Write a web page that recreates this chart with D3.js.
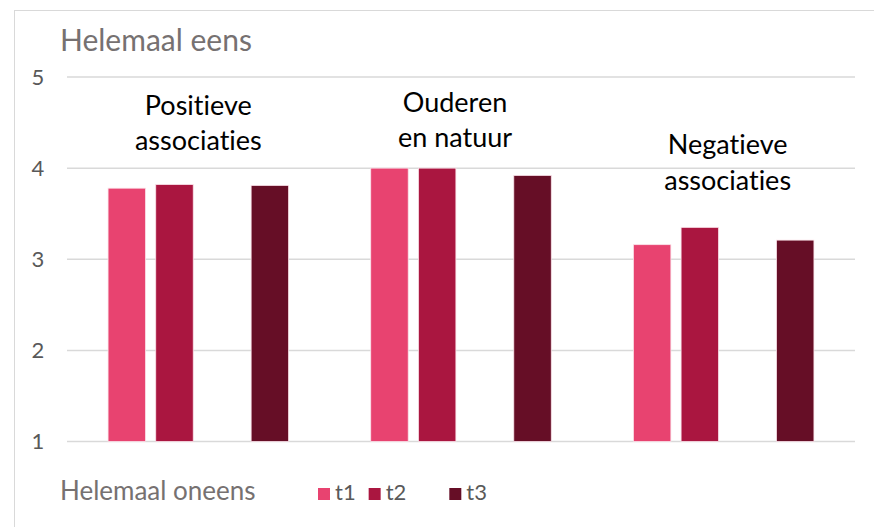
<!DOCTYPE html>
<html>
<head>
<meta charset="utf-8">
<script src="https://cdn.jsdelivr.net/npm/d3@7"></script>
<style>
  body { margin: 0; background: #fff; }
  svg { display: block; font-family: Lato, "Open Sans", sans-serif; font-variant-ligatures: none; font-feature-settings: "liga" 0, "clig" 0; }
</style>
</head>
<body>
<div id="chart"></div>
<script>
var width = 874,
	height = 527;

// data
var groups = ['Positieve associaties', 'Ouderen en natuur', 'Negatieve associaties'];
var groupLines = [['Positieve', 'associaties'], ['Ouderen', 'en natuur'], ['Negatieve', 'associaties']];
var series = ['t1', 't2', '', 't3'];   // third series is empty (spacer)
var t1 = [3.78, 4.00, 3.16];
var t2 = [3.82, 4.00, 3.35];
var t3 = [3.81, 3.92, 3.21];
var yTicks = [1, 2, 3, 4, 5];
var topLabel = 'Helemaal eens';
var bottomLabel = 'Helemaal oneens';

var values = {t1: t1, t2: t2, '': [null, null, null], t3: t3};
var colors = {t1: '#e84370', t2: '#aa1640', '': 'none', t3: '#660e26'};

var svg = d3.select('#chart').append('svg')
	.attr('width', width)
	.attr('height', height);

// chart border
svg.append('rect')
	.attr('x', 14.5).attr('y', 10.5)
	.attr('width', width + 10).attr('height', height + 10)
	.style('fill', 'none')
	.style('stroke', '#d9d9d9')
	.style('stroke-width', 1);

var x0 = d3.scaleBand()
	.domain(groups)
	.range([67, 855]);

var x1 = d3.scaleBand()
	.domain(series)
	.range([0, x0.bandwidth()])
	.paddingInner(0.214)
	.paddingOuter(0.861);

var y = d3.scaleLinear()
	.domain([1, 5])
	.range([441.5, 77]);

// gridlines
svg.append('g')
	.selectAll('line')
	.data(yTicks)
	.enter()
	.append('line')
	.attr('x1', 67).attr('x2', 855)
	.attr('y1', d => y(d)).attr('y2', d => y(d))
	.style('stroke', '#d9d9d9')
	.style('stroke-width', 1.5);

// tick labels
svg.append('g')
	.selectAll('text')
	.data(yTicks)
	.enter()
	.append('text')
	.attr('x', 38)
	.attr('y', d => y(d))
	.attr('dy', '0.36em')
	.attr('text-anchor', 'middle')
	.style('font-size', '22px')
	.style('fill', '#595959')
	.text(d => d);

// bars
var g = svg.append('g')
	.selectAll('g')
	.data(groups)
	.enter()
	.append('g')
	.attr('transform', d => 'translate(' + x0(d) + ',0)');

g.selectAll('rect')
	.data((d, i) => series.filter(s => s !== '').map(s => ({s: s, v: values[s][i]})))
	.enter()
	.append('rect')
	.attr('x', d => x1(d.s))
	.attr('width', x1.bandwidth())
	.attr('y', d => y(d.v))
	.attr('height', d => y(1) - y(d.v))
	.style('fill', d => colors[d.s])
	.style('stroke', '#fbe3ea')
	.style('stroke-width', 0.8);

// group labels
var labelPos = [
	{dx: 0, y: [4.58, 4.20]},
	{dx: -6, y: [4.615, 4.235]},
	{dx: 4, y: [4.155, 3.76]}
];
groups.forEach(function(gname, i) {
	svg.append('text')
		.attr('text-anchor', 'middle')
		.style('font-size', '27px')
		.style('fill', '#000')
		.selectAll('tspan')
		.data(groupLines[i])
		.enter()
		.append('tspan')
		.attr('x', x0(gname) + x0.bandwidth() / 2 + labelPos[i].dx)
		.attr('y', (d, j) => y(labelPos[i].y[j]))
		.text(d => d);
});

// axis titles
svg.append('text')
	.attr('x', 60).attr('y', 51)
	.style('font-size', '30px')
	.style('fill', '#767171')
	.text(topLabel);

svg.append('text')
	.attr('x', 60).attr('y', 500)
	.style('font-size', '26px')
	.style('fill', '#767171')
	.text(bottomLabel);

// legend
var legend = svg.append('g');
var lx = 318;
series.forEach(function(s) {
	if (s !== '') {
		legend.append('rect')
			.attr('x', lx).attr('y', 488)
			.attr('width', 12).attr('height', 12)
			.style('fill', colors[s]);
		var t = legend.append('text')
			.attr('x', lx + 17).attr('y', 500)
			.style('font-size', '22px')
			.style('fill', '#595959')
			.text(s);
		lx += 17 + t.node().getComputedTextLength() + 13;
	} else {
		lx += 17 + 13;
	}
});
</script>
</body>
</html>
